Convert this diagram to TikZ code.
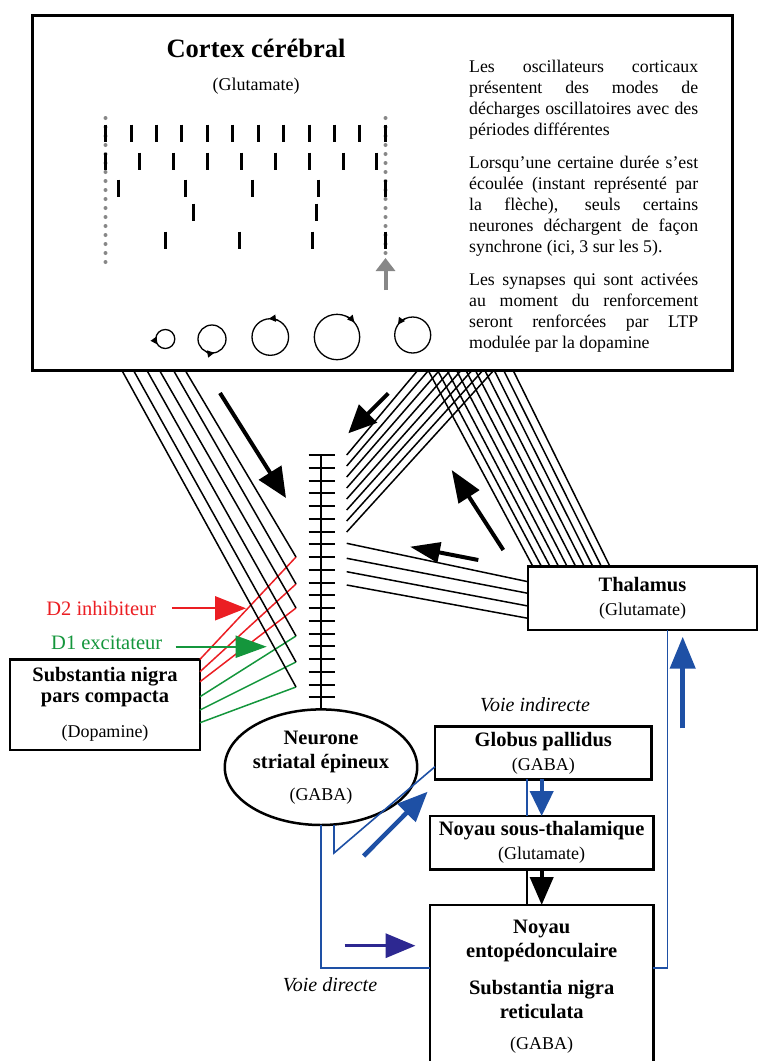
\documentclass[tikz,border=0pt]{standalone}
\usepackage{fontspec}
\setmainfont{Liberation Serif}
\usetikzlibrary{arrows.meta}
\usetikzlibrary{shapes.geometric}
\definecolor{bleuvoie}{RGB}{30,80,165}
\definecolor{indigo}{RGB}{45,40,145}
\definecolor{rouged}{RGB}{235,30,35}
\definecolor{vertd}{RGB}{20,150,60}
\definecolor{grisosc}{RGB}{135,135,135}
\newcommand{\sous}[1]{{\fontsize{18}{22}\selectfont\mdseries #1}}
\tikzset{
  boite/.style={draw,line width=2.5pt,inner sep=0pt,outer sep=0pt,align=center,
    font=\fontsize{20.5}{24}\selectfont\bfseries},
  fibre/.style={line width=1.5pt},
  voie/.style={bleuvoie,line width=1.6pt},
  sens/.style 2 args={line width=4pt,-{Triangle[length=#1,width=#2]}}
}

\begin{document}
\begin{tikzpicture}[x=1pt,y=-1pt]
\useasboundingbox (0,0) rectangle (759,1061);
\clip (0,0) rectangle (759,1061);

% cortex
\node[draw,line width=3pt,outer sep=0pt,minimum width=700pt,minimum height=355pt,anchor=north west] (cortex) at (32,15) {};
\node[font=\fontsize{26.5}{30}\selectfont\bfseries] (titre) at (256,48) {Cortex cérébral};
\node[font=\fontsize{18}{22}\selectfont] (glu) at (256,86) {(Glutamate)};
\node[anchor=north west,inner sep=0pt,text width=229pt,align=justify,font=\fontsize{17.8}{21}\selectfont] (texte) at (469,60)
 {\setlength{\parindent}{0pt}\setlength{\parskip}{12pt}Les oscillateurs corticaux\linebreak présentent des modes de\linebreak décharges oscillatoires avec des\linebreak périodes différentes\par
 Lorsqu’une certaine durée s’est\linebreak écoulée (instant représenté par\linebreak la flèche), seuls certains\linebreak neurones déchargent de façon\linebreak synchrone (ici, 3 sur les 5).\par
 Les synapses qui sont activées\linebreak au moment du renforcement\linebreak seront renforcées par LTP\linebreak modulée par la dopamine};

\foreach \k in {0,...,16}{
  \fill[grisosc] (105.5,118+9*\k) circle[radius=2];
  \fill[grisosc] (385.5,118+9*\k) circle[radius=2];
}
\foreach \k in {0,...,11} \draw[line width=3pt] (105.7+25.42*\k,124.5) -- ++(0,17);
\foreach \k in {0,...,8} \draw[line width=3pt] (105.7+33.9*\k,152.5) -- ++(0,17);
\foreach \k in {0,...,4} \draw[line width=3pt] (118.7+66.75*\k,179.5) -- ++(0,17);
\foreach \x in {193.7,316.3} \draw[line width=3pt] (\x,203.5) -- ++(0,17);
\foreach \k in {0,...,3} \draw[line width=3pt] (165.7+73.3*\k,231.5) -- ++(0,17);
\draw[grisosc,line width=4pt,-{Triangle[length=13pt,width=19pt]}] (385.5,290) -- (385.5,258);

\foreach \cx/\cy/\r/\sa/\ea in {165.3/339/9.5/185/145,212/339/14/115/80,270.3/337/18.3/295/265,337/337/22.7/295/320,412.7/335/18/245/215}{
  \draw[line width=1.3pt] (\cx,\cy) circle[radius=\r];
  \draw[line width=1.3pt,-{Triangle[length=7pt,width=7pt]}] (\cx,\cy) ++(\sa:\r) arc[start angle=\sa,end angle=\ea,radius=\r];
}

% noyaux
\node[boite,minimum width=229pt,minimum height=63.3pt] (thal) at (642.5,598.3) {Thalamus\\\sous{(Glutamate)}};
\node[boite,minimum width=190pt,minimum height=90.7pt,font=\fontsize{20.5}{21}\selectfont\bfseries] (snc) at (105,704.7) {Substantia nigra\\pars compacta\\[14pt]\sous{(Dopamine)}};
\node[boite,minimum width=216.7pt,minimum height=52.6pt] (gp) at (543.3,753) {Globus pallidus\\\sous{(GABA)}};
\node[boite,minimum width=223.3pt,minimum height=53.3pt] (nst) at (541.7,842.7) {Noyau sous-thalamique\\\sous{(Glutamate)}};
\node[boite,minimum width=223.3pt,minimum height=163.4pt] (ne) at (541.7,986.7) {Noyau\\entopédonculaire\\[13pt]Substantia nigra\\reticulata\\[7pt]\sous{(GABA)}};
\node[boite,ellipse,minimum width=175.6pt,minimum height=115.6pt] (nse) at (321,767.2) {Neurone\\striatal épineux\\[8pt]\sous{(GABA)}};

% dendrite
\coordinate (dend) at (321,455);
\draw[line width=2pt] (dend) -- (nse.north);
\foreach \k in {0,...,19} \draw[line width=2pt] (308.5,455+12.75*\k) -- ++(26,0);

% fibres
\foreach \xa/\yb/\yc/\col in {185/557/659.3/rouged,173.3/584/671.7/rouged,159.3/608/681.7/rouged,146.7/636/696.7/vertd,133.3/662/710/vertd,121.7/687/722.7/vertd}{
  \draw[fibre,\col] (296,\yb) -- (snc.east |- 0,\yc);
  \draw[fibre] (\xa,0 |- cortex.south) -- (296,\yb);
}
\foreach \k in {0,...,7} \draw[fibre] (418+10.86*\k,0 |- cortex.south) -- (346.7,455+11*\k);
\foreach \k in {0,...,9} \draw[fibre] (533+8.56*\k,0 |- thal.north) -- (428+9.44*\k,0 |- cortex.south);
\foreach \ya/\yb in {543.3/581.7,558.3/593.3,571.7/606,585/618.3} \draw[fibre] (346.7,\ya) -- (thal.west |- 0,\yb);

\draw[sens={30pt}{26pt}] (220,393) -- (286,498);
\draw[sens={28pt}{25pt}] (388.3,393.3) -- (348.3,433.3);
\draw[sens={32pt}{24pt}] (503.3,550) -- (451.7,470);
\draw[sens={30pt}{20pt}] (478.3,560) -- (410,546.7);

% dopamine
\node[text=rouged,font=\fontsize{20.5}{24}\selectfont] (d2) at (101.3,608.3) {D2 inhibiteur};
\node[text=vertd,font=\fontsize{20.5}{24}\selectfont] (d1) at (106.7,643.3) {D1 excitateur};
\coordinate (pd2) at (246,608.3);
\coordinate (pd1) at (266.7,646.7);
\draw[rouged,line width=2pt,-{Triangle[length=31pt,width=24pt]}] ([xshift=12pt]d2.east) -- (pd2);
\draw[vertd,line width=2pt,-{Triangle[length=31pt,width=22pt]}] ([xshift=10pt,yshift=-3.4pt]d1.east) -- (pd1);

% voies
\node[font=\fontsize{20}{24}\selectfont\itshape] (indir) at (535,705) {Voie indirecte};
\node[font=\fontsize{20}{24}\selectfont\itshape] (dir) at (330,985) {Voie directe};
\draw[voie] (nse.south) |- ([yshift=18.7pt]ne.west);
\draw[voie] ([xshift=13pt]nse.south) -- ++(0,28) -- ([yshift=-13.7pt]gp.west);
\draw[voie] ([xshift=-16.6pt]gp.south) -- ([xshift=-16.6pt]gp.south |- nst.north);
\draw[bleuvoie,sens={25pt}{23pt}] ([xshift=-1.6pt]gp.south) -- ([xshift=-1.6pt]gp.south |- nst.north);
\draw[line width=1.6pt] ([xshift=-15pt]nst.south) -- ([xshift=-15pt]nst.south |- ne.north);
\draw[sens={28pt}{23pt}] (nst.south) -- (nst.south |- ne.north);
\draw[voie] ([yshift=18.7pt]ne.east) -| ([xshift=24.8pt]thal.south);
\draw[bleuvoie,line width=4.5pt,-{Triangle[length=32pt,width=25pt]}] (682.7,728.3) -- (682.7,636.7);
\draw[bleuvoie,line width=4.5pt,-{Triangle[length=30pt,width=25pt]}] (363.6,856) -- (427.6,791.7);
\draw[indigo,line width=3.5pt,-{Triangle[length=30pt,width=24pt]}] (344.6,945.7) -- (415.5,945.7);
\end{tikzpicture}
\end{document}
